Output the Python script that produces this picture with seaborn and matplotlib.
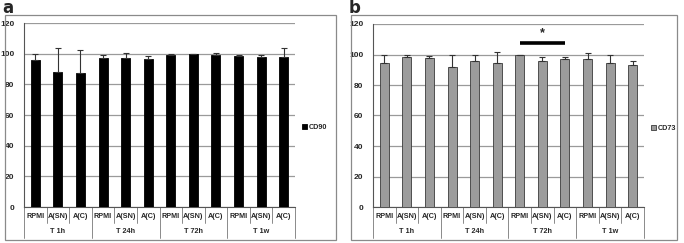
import numpy as np
import pandas as pd
import matplotlib
matplotlib.use("Agg")
import matplotlib.pyplot as plt
import seaborn as sns
from matplotlib.patches import Rectangle

# ------------------------------------------------------------------
# data
# ------------------------------------------------------------------
groups = ["T 1h", "T 24h", "T 72h", "T 1w"]
treatments = ["RPMI", "A(SN)", "A(C)"]

cd90_mean = [96.1, 87.8, 87.6, 97.0, 97.4, 96.3, 99.3, 99.8, 99.3, 98.7, 98.0, 98.0]
cd90_err = [3.7, 16.0, 15.0, 2.0, 3.0, 2.4, 0.4, 0.3, 1.1, 0.3, 1.3, 5.7]

cd73_mean = [94.1, 98.3, 97.6, 92.1, 95.9, 94.3, 99.8, 95.6, 96.9, 96.9, 94.3, 93.4]
cd73_err = [5.7, 1.3, 1.3, 7.6, 3.7, 7.2, 0.0, 2.6, 1.3, 4.0, 5.2, 2.2]

yticks = [0, 20, 40, 60, 80, 100, 120]
sig_span = (6, 8)   # RPMI T72h -> A(C) T72h
sig_y = 107.5

W, H = 684, 243
fig = plt.figure(figsize=(W / 100, H / 100), dpi=100)
sns.set_style("white")
plt.rcParams["font.family"] = ["Liberation Sans", "DejaVu Sans"]

FS = 5.2


def px_axes(l, t, r, b):
    return fig.add_axes([l / W, (H - b) / H, (r - l) / W, (b - t) / H])


def panel(ax, means, errs, name, bar_color, edge_color, err_color):
    slots = [f"{g}|{t}" for g in groups for t in treatments]
    df = pd.DataFrame({"slot": slots, "value": means})
    sns.barplot(data=df, x="slot", y="value", order=slots, color=bar_color,
                width=0.4, edgecolor=edge_color, linewidth=0.6,
                saturation=1, errorbar=None, ax=ax, zorder=3)
    x = np.arange(len(slots))
    ax.errorbar(x, means, yerr=[np.zeros(len(errs)), errs], fmt="none",
                ecolor=err_color, elinewidth=0.8, capsize=2.2, capthick=0.8,
                zorder=4)
    ax.set_ylim(0, 120)
    ax.set_xlim(-0.5, len(slots) - 0.5)
    ax.set_yticks(yticks)
    ax.set_yticklabels([str(v) for v in yticks], fontsize=6, fontweight="bold")
    ax.yaxis.grid(True, color="#9a9a9a", linewidth=0.9)
    ax.set_axisbelow(True)
    ax.set_xticks([])
    ax.set_xlabel("")
    ax.set_ylabel("")
    for s in ["top", "right"]:
        ax.spines[s].set_visible(False)
    ax.spines["left"].set_color("#555555")
    ax.spines["left"].set_linewidth(0.8)
    ax.spines["bottom"].set_color("#555555")
    ax.spines["bottom"].set_linewidth(0.8)
    ax.tick_params(axis="y", length=0, pad=7)

    # two-level category axis (Excel style)
    trans = ax.get_xaxis_transform()
    ax_h = ax.get_position().height * H
    row1 = -16 / ax_h
    row2 = -31 / ax_h
    for i, s in enumerate(slots):
        ax.text(i, -9 / ax_h, s.split("|")[1], transform=trans, ha="center",
                va="center", fontsize=FS, fontweight="bold")
    for k, g in enumerate(groups):
        ax.text(3 * k + 1, -24 / ax_h, g, transform=trans, ha="center",
                va="center", fontsize=FS, fontweight="bold")
    for j in range(len(slots) + 1):
        xb = j - 0.5
        low = row2 if j % 3 == 0 else row1
        ax.plot([xb, xb], [0, low], transform=trans, color="#777777",
                linewidth=0.6, clip_on=False)

    # legend
    ax.legend(handles=[Rectangle((0, 0), 1, 1, facecolor=bar_color,
                                 edgecolor=edge_color, linewidth=0.6)],
              labels=[name], loc="center left", bbox_to_anchor=(1.025, 0.43),
              frameon=False, handlelength=0.7, handleheight=0.7,
              handletextpad=0.3, borderpad=0, borderaxespad=0,
              prop={"size": FS, "weight": "bold"})


def outer_box(l, t, r, b):
    fig.patches.append(Rectangle((l / W, (H - b) / H), (r - l) / W, (b - t) / H,
                                 transform=fig.transFigure, fill=False,
                                 edgecolor="#8a8a8a", linewidth=0.9))


# panel a
outer_box(5, 15, 336, 240)
ax_a = px_axes(24, 23, 295, 207)
panel(ax_a, cd90_mean, cd90_err, "CD90", "black", "black", "#333333")
fig.text(2 / W, 1 - 8 / H, "a", fontsize=12, fontweight="bold", va="center",
         family="DejaVu Sans")

# panel b
outer_box(351, 15, 677, 240)
ax_b = px_axes(373, 24, 644, 207)
panel(ax_b, cd73_mean, cd73_err, "CD73", "#9c9c9c", "#3a3a3a", "#333333")
ax_b.plot(sig_span, [sig_y, sig_y], color="black", linewidth=2.6,
          solid_capstyle="butt", zorder=5, clip_on=False)
ax_b.text(np.mean(sig_span), sig_y + 2.5, "*", ha="center", va="bottom",
          fontsize=9, fontweight="bold")
fig.text(349 / W, 1 - 8 / H, "b", fontsize=12, fontweight="bold", va="center",
         family="DejaVu Sans")

fig.savefig("out.png", dpi=100)
